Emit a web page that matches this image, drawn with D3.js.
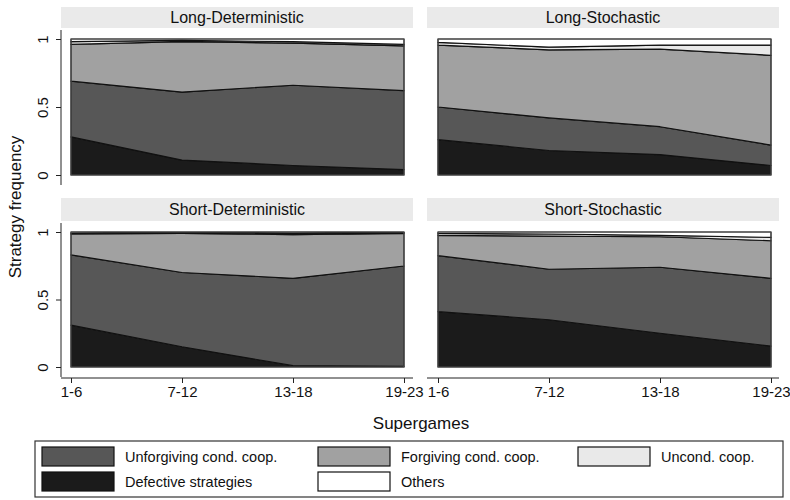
<!DOCTYPE html>
<html>
<head>
<meta charset="utf-8">
<script src="https://cdn.jsdelivr.net/npm/d3@7"></script>
<style>
  body { margin: 0; background: #fff; }
  text { font-family: 'Liberation Sans', Arial, sans-serif; fill: #111; }
  .strip-title { font-size: 16px; }
  .tick text { font-size: 15px; fill: #111; }
  .axis-label { font-size: 17px; }
  .legend-label { font-size: 14.5px; }
</style>
</head>
<body>
<svg width="790" height="500"></svg>
<script>
const svg = d3.select('svg');

// data
const supergames = ['1-6', '7-12', '13-18', '19-23'];
const strategies = ['Defective strategies', 'Unforgiving cond. coop.', 'Forgiving cond. coop.', 'Uncond. coop.', 'Others'];
const panels = ['Long-Deterministic', 'Long-Stochastic', 'Short-Deterministic', 'Short-Stochastic'];

// shares per supergame block, one array per strategy (bottom to top)
const longDet = [
  [0.28, 0.11, 0.07, 0.04],
  [0.41, 0.50, 0.59, 0.58],
  [0.27, 0.37, 0.31, 0.33],
  [0.02, 0.01, 0.01, 0.01],
  [0.02, 0.01, 0.02, 0.04]
];
const longSto = [
  [0.26, 0.18, 0.15, 0.07],
  [0.24, 0.24, 0.205, 0.15],
  [0.455, 0.50, 0.57, 0.66],
  [0.02, 0.02, 0.03, 0.075],
  [0.025, 0.06, 0.045, 0.045]
];
const shortDet = [
  [0.31, 0.15, 0.01, 0.005],
  [0.52, 0.55, 0.647, 0.743],
  [0.155, 0.29, 0.323, 0.242],
  [0.005, 0.005, 0.01, 0.005],
  [0.01, 0.005, 0.01, 0.005]
];
const shortSto = [
  [0.41, 0.35, 0.25, 0.155],
  [0.415, 0.374, 0.489, 0.502],
  [0.15, 0.246, 0.226, 0.278],
  [0.015, 0.015, 0.01, 0.025],
  [0.01, 0.015, 0.025, 0.04]
];
const panelData = [longDet, longSto, shortDet, shortSto];

const colors = ['#1b1b1b', '#575757', '#a1a1a1', '#e9e9e9', '#ffffff'];
const legendOrder = [1, 2, 3, 0, 4];

// layout
const cols = [{x0: 71, x1: 404, sx0: 61, sx1: 413}, {x0: 438, x1: 771, sx0: 427, sx1: 779}];
const rows = [{top: 39, bottom: 175, sy0: 7, sy1: 28}, {top: 232, bottom: 367, sy0: 198, sy1: 221}];

const render = () => {
  panels.forEach((name, i) => {
    const c = cols[i % 2];
    const r = rows[Math.floor(i / 2)];
    const data = panelData[i];

    const rowsData = supergames.map((s, j) => {
      const o = {key: s, idx: j};
      strategies.forEach((st, k) => { o[st] = data[k][j]; });
      return o;
    });

    const stack = d3.stack().keys(strategies);
    const series = stack(rowsData);

    const xScale = d3.scaleLinear().domain([0, supergames.length - 1]).range([c.x0, c.x1]);
    const yScale = d3.scaleLinear().domain([0, 1]).range([r.bottom, r.top]);

    // strip title
    svg.append('rect')
      .attr('x', c.sx0).attr('y', r.sy0)
      .attr('width', c.sx1 - c.sx0).attr('height', r.sy1 - r.sy0)
      .attr('fill', '#eaeaea');
    svg.append('text')
      .attr('class', 'strip-title')
      .attr('x', (c.sx0 + c.sx1) / 2)
      .attr('y', (r.sy0 + r.sy1) / 2 + 5.5)
      .attr('text-anchor', 'middle')
      .text(name);

    const areaGen = d3.area()
      .x(d => xScale(d.data.idx))
      .y0(d => yScale(d[0]))
      .y1(d => yScale(d[1]));

    svg.append('g').selectAll('path').data(series)
      .enter().append('path')
        .attr('d', areaGen)
        .attr('fill', (d, k) => colors[k])
        .attr('stroke', '#111')
        .attr('stroke-width', 1.2)
        .attr('stroke-linejoin', 'round');

    // plot region outline
    svg.append('rect')
      .attr('x', c.x0).attr('y', r.top)
      .attr('width', c.x1 - c.x0).attr('height', r.bottom - r.top)
      .attr('fill', 'none')
      .attr('stroke', '#555')
      .attr('stroke-width', 1);

    // y axis on left column
    if (i % 2 === 0) {
      const yAxis = d3.axisLeft(yScale)
        .tickValues([0, 0.5, 1])
        .tickFormat(d3.format('~g'))
        .tickSize(5)
        .tickSizeOuter(0);
      const yAxisG = svg.append('g')
        .attr('transform', `translate(${c.sx0},0)`)
        .call(yAxis);
      yAxisG.select('.domain')
        .attr('d', `M0,${r.top - 9}V${r.bottom + 10}`)
        .attr('stroke', '#222');
      yAxisG.selectAll('.tick line').attr('stroke', '#222');
      yAxisG.selectAll('.tick text')
        .attr('transform', 'rotate(-90)')
        .attr('x', 0)
        .attr('y', -13)
        .attr('dy', 0)
        .attr('text-anchor', 'middle');
    }

    // x axis on bottom row
    if (i >= 2) {
      const xAxis = d3.axisBottom(xScale)
        .tickValues(d3.range(supergames.length))
        .tickFormat(j => supergames[j])
        .tickSize(5)
        .tickSizeOuter(0)
        .tickPadding(3);
      const xAxisG = svg.append('g')
        .attr('transform', `translate(0,${r.bottom + 11})`)
        .call(xAxis);
      xAxisG.select('.domain')
        .attr('d', `M${c.sx0},0H${c.sx1}`)
        .attr('stroke', '#222');
      xAxisG.selectAll('.tick line').attr('stroke', '#222');
    }
  });

  // axis titles
  svg.append('text')
    .attr('class', 'axis-label')
    .attr('transform', `translate(21,${(rows[0].top + rows[1].bottom) / 2 + 4}) rotate(-90)`)
    .attr('text-anchor', 'middle')
    .text('Strategy frequency');

  svg.append('text')
    .attr('class', 'axis-label')
    .attr('x', (cols[0].x0 + cols[1].x1) / 2)
    .attr('y', 429)
    .attr('text-anchor', 'middle')
    .text('Supergames');

  // legend
  const legend = svg.append('g');
  legend.append('rect')
    .attr('x', 35).attr('y', 441)
    .attr('width', 748).attr('height', 56)
    .attr('fill', '#fff')
    .attr('stroke', '#333')
    .attr('stroke-width', 1.2);

  const legendX = [42, 318, 578];
  const legendY = [447, 472];
  legendOrder.forEach((k, n) => {
    const gx = legendX[n % 3];
    const gy = legendY[Math.floor(n / 3)];
    legend.append('rect')
      .attr('x', gx).attr('y', gy)
      .attr('width', 72).attr('height', 19)
      .attr('fill', colors[k])
      .attr('stroke', '#111')
      .attr('stroke-width', 1.2);
    legend.append('text')
      .attr('class', 'legend-label')
      .attr('x', gx + 83)
      .attr('y', gy + 14.5)
      .text(strategies[k]);
  });
};

render();
</script>
</body>
</html>
